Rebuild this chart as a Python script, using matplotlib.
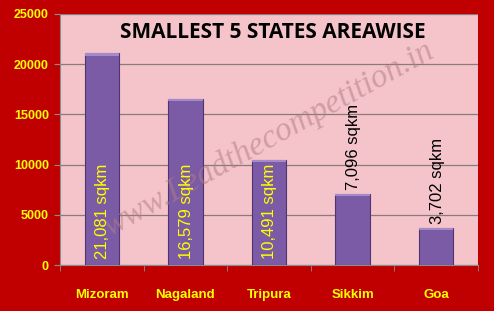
import matplotlib
matplotlib.use("Agg")
import matplotlib.pyplot as plt
import numpy as np

states = ["Mizoram", "Nagaland", "Tripura", "Sikkim", "Goa"]
areas = [21081, 16579, 10491, 7096, 3702]
labels = ["21,081 sqkm", "16,579 sqkm", "10,491 sqkm", "7,096 sqkm", "3,702 sqkm"]
yticks = [0, 5000, 10000, 15000, 20000, 25000]
title = "SMALLEST 5 STATES AREAWISE"
watermark = "www.Leadthecompetition.in"

plt.rcParams['font.family'] = ['Liberation Sans', 'DejaVu Sans']

W, H = 494, 314
fig = plt.figure(figsize=(W/100, H/100), dpi=100)
fig.patch.set_facecolor('#C00000')
# white strip at the bottom
fig.add_artist(plt.Rectangle((0, 0), 1, 3/H, transform=fig.transFigure,
                             facecolor='white', edgecolor='none'))

ax = fig.add_axes([60/W, (H-265)/H, 418/W, 251/H])
ax.set_facecolor('#F5C4CA')
x = np.arange(len(states))
bars = ax.bar(x, areas, width=0.41, color='#7B5BA6', edgecolor='#4E3572',
              linewidth=0.8, zorder=3)
# lighter top bevel
for b in bars:
    ax.bar(b.get_x() + b.get_width()/2, 250, bottom=b.get_height()-250,
           width=b.get_width(), color='#A48AC8', edgecolor='none', zorder=4)

ax.set_xlim(-0.5, len(states) - 0.5)
ax.set_ylim(0, 25000)
ax.set_yticks(yticks)
ax.set_yticklabels([str(v) for v in yticks], color='#FFFF00',
                   fontweight='bold', fontsize=9)
ax.set_xticks(x)
ax.set_xticklabels(states, color='#FFFF00', fontweight='bold', fontsize=9.5)
ax.tick_params(axis='x', length=0, pad=17)
ax.tick_params(axis='y', length=4, color='#8C8C8C', pad=4)
ax.set_xticks(np.arange(-0.5, len(states)), minor=True)
ax.tick_params(axis='x', which='minor', length=4, color='#8C8C8C')
ax.yaxis.grid(True, color='#8A7A7A', linewidth=0.9, zorder=1)
ax.set_axisbelow(True)
for s in ['top', 'right']:
    ax.spines[s].set_visible(False)
ax.spines['left'].set_color('#8C8C8C')
ax.spines['bottom'].set_color('#8C8C8C')

ax.text(0.508, 0.925, title, transform=ax.transAxes, ha='center', va='center',
        fontsize=15, fontweight='bold', color='black', family=['Open Sans', 'DejaVu Sans'], zorder=6)

ax.text(0.5, 0.5, watermark, transform=ax.transAxes, ha='center', va='center',
        rotation=29, fontsize=24, style='italic', family=['Liberation Serif'],
        color='#B07E84', alpha=0.55, zorder=5)

for i, (v, lab) in enumerate(zip(areas, labels)):
    if i < 3:
        ax.text(i + 0.01, 600, lab, rotation=90, ha='center', va='bottom',
                color='#FFFF00', fontsize=12, zorder=6)
    else:
        ax.text(i + 0.01, v + 350, lab, rotation=90, ha='center', va='bottom',
                color='black', fontsize=12, zorder=6)

fig.savefig('out.png', dpi=100, facecolor=fig.get_facecolor())
